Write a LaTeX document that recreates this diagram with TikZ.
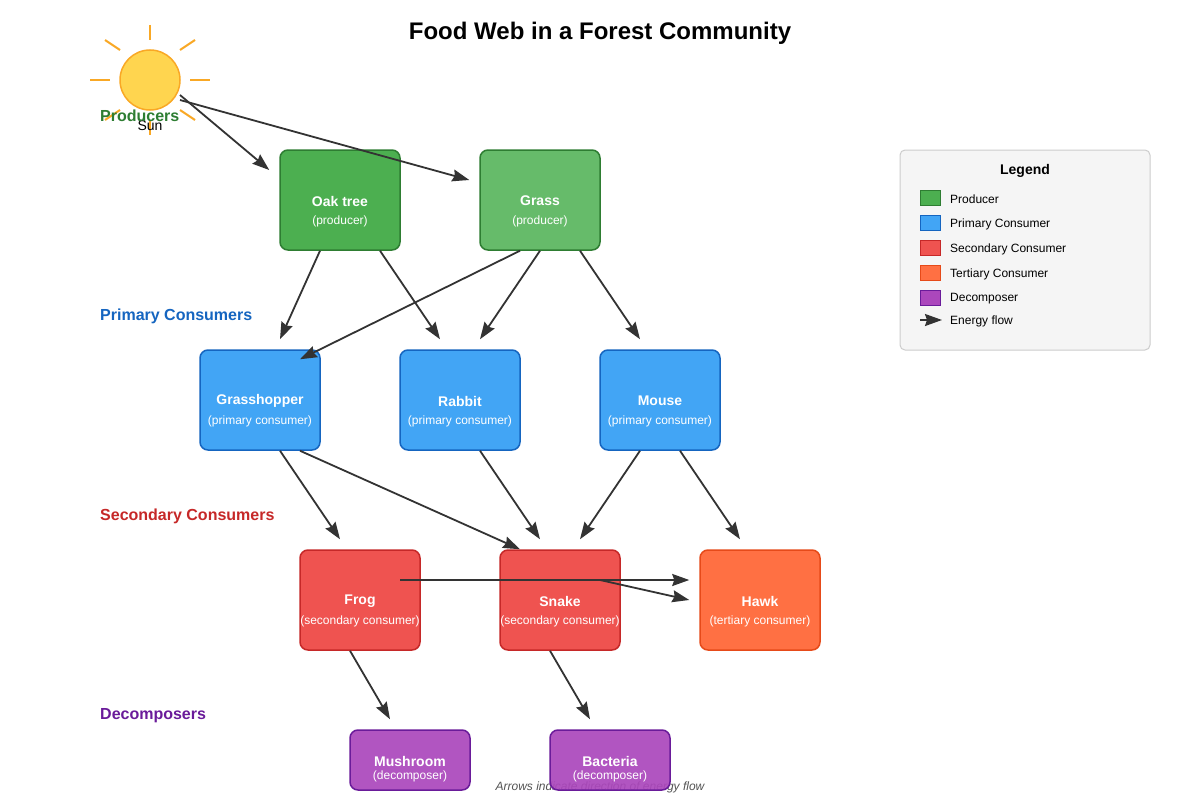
\documentclass[tikz,border=0pt]{standalone}
\usepackage{fontspec}
\setmainfont{Liberation Sans}
\usetikzlibrary{arrows.meta}
\definecolor{arr}{HTML}{333333}
\definecolor{prodA}{HTML}{4CAF50}
\definecolor{prodB}{HTML}{66BB6A}
\definecolor{prodE}{HTML}{2E7D32}
\definecolor{primF}{HTML}{42A5F5}
\definecolor{primE}{HTML}{1565C0}
\definecolor{secF}{HTML}{EF5350}
\definecolor{secE}{HTML}{C62828}
\definecolor{terF}{HTML}{FF7043}
\definecolor{terE}{HTML}{E64A19}
\definecolor{decF}{HTML}{AB47BC}
\definecolor{decE}{HTML}{6A1B9A}
\definecolor{sunF}{HTML}{FFD54F}
\definecolor{sunE}{HTML}{F9A825}
\definecolor{legF}{HTML}{F5F5F5}
\definecolor{legE}{HTML}{CCCCCC}
\tikzset{
  org/.style={draw, line width=1.5pt, rounded corners=8pt, minimum width=120pt, minimum height=100pt, inner sep=0pt},
  smallorg/.style={org, minimum height=60pt, fill opacity=0.92},
  flow/.style={draw=arr, line width=1.8pt, -{Stealth[length=17pt,width=12pt,inset=2pt]}},
  ray/.style={draw=sunE, line width=2pt},
  lvl/.style={anchor=west, font=\fontsize{16}{18}\selectfont\bfseries, inner sep=0pt},
  tname/.style={text=white, font=\fontsize{14}{16}\selectfont\bfseries, inner sep=0pt, text opacity=1},
  tsub/.style={text=white, font=\fontsize{12}{14}\selectfont, inner sep=0pt, text opacity=1},
  legtxt/.style={anchor=west, font=\fontsize{12}{14}\selectfont, inner sep=0pt},
  swatch/.style={draw, line width=1pt, minimum width=20pt, minimum height=15pt, inner sep=0pt, anchor=north west}
}
\begin{document}
\begin{tikzpicture}[x=1pt,y=-1pt]
\useasboundingbox (0,0) rectangle (1200,800);
\fill[white] (0,0) rectangle (1200,800);

% title
\node[font=\fontsize{24}{28}\selectfont\bfseries] (title) at (600,33) {Food Web in a Forest Community};

% caption (under boxes)
\node[text=black!67, font=\fontsize{12}{14}\selectfont\itshape] (cap) at (600,787) {Arrows indicate direction of energy flow};

% sun
\draw[ray] (150,25) -- (150,40);
\draw[ray] (150,120) -- (150,135);
\draw[ray] (90,80) -- (110,80);
\draw[ray] (190,80) -- (210,80);
\draw[ray] (180,50) -- (195,40);
\draw[ray] (120,50) -- (105,40);
\draw[ray] (180,110) -- (195,120);
\draw[ray] (120,110) -- (105,120);
\node[circle, draw=sunE, fill=sunF, line width=1.5pt, minimum size=60pt, inner sep=0pt] (sun) at (150,80) {};
\node[font=\fontsize{14}{16}\selectfont, inner sep=0pt] (sunlbl) at (150,126) {Sun};

% level labels
\node[lvl, text=prodE] (lp) at (100,116) {Producers};
\node[lvl, text=primE] (l1) at (100,316) {Primary Consumers};
\node[lvl, text=secE] (l2) at (100,516) {Secondary Consumers};
\node[lvl, text=decE] (l3) at (100,716) {Decomposers};

% organisms
\node[org, draw=prodE, fill=prodA] (oak) at (340,200) {};
\node[org, draw=prodE, fill=prodB] (grass) at (540,200) {};
\node[org, draw=primE, fill=primF] (gh) at (260,400) {};
\node[org, draw=primE, fill=primF] (rab) at (460,400) {};
\node[org, draw=primE, fill=primF] (mou) at (660,400) {};
\node[org, draw=secE, fill=secF] (frog) at (360,600) {};
\node[org, draw=secE, fill=secF] (snake) at (560,600) {};
\node[org, draw=terE, fill=terF] (hawk) at (760,600) {};
\node[smallorg, draw=decE, fill=decF] (mush) at (410,760) {};
\node[smallorg, draw=decE, fill=decF] (bact) at (610,760) {};

\node[tname] (oakT) at (340,201) {Oak tree};
\node[tsub] (oakS) at (340,221) {(producer)};
\node[tname] (grassT) at (540,201) {Grass};
\node[tsub] (grassS) at (540,221) {(producer)};
\node[tname] (ghT) at (260,401) {Grasshopper};
\node[tsub] (ghS) at (260,421) {(primary consumer)};
\node[tname] (rabT) at (460,401) {Rabbit};
\node[tsub] (rabS) at (460,421) {(primary consumer)};
\node[tname] (mouT) at (660,401) {Mouse};
\node[tsub] (mouS) at (660,421) {(primary consumer)};
\node[tname] (frogT) at (360,601) {Frog};
\node[tsub] (frogS) at (360,621) {(secondary consumer)};
\node[tname] (snakeT) at (560,601) {Snake};
\node[tsub] (snakeS) at (560,621) {(secondary consumer)};
\node[tname] (hawkT) at (760,601) {Hawk};
\node[tsub] (hawkS) at (760,621) {(tertiary consumer)};
\node[tname] (mushT) at (410,761) {Mushroom};
\node[tsub] (mushS) at (410,776) {(decomposer)};
\node[tname] (bactT) at (610,761) {Bacteria};
\node[tsub] (bactS) at (610,776) {(decomposer)};

% energy flows
\draw[flow] ([xshift=30pt,yshift=-15pt]sun.center) -- ([xshift=-10pt,yshift=30pt]oak.west);
\draw[flow] ([xshift=30pt,yshift=-20pt]sun.center) -- ([xshift=-10pt,yshift=20pt]grass.west);
\draw[flow] ([xshift=-20pt]oak.south) -- ([xshift=20pt,yshift=10pt]gh.north);
\draw[flow] ([xshift=40pt]oak.south) -- ([xshift=-20pt,yshift=10pt]rab.north);
\draw[flow] ([xshift=-20pt]grass.south) -- ([xshift=40pt,yshift=-10pt]gh.north);
\draw[flow] (grass.south) -- ([xshift=20pt,yshift=10pt]rab.north);
\draw[flow] ([xshift=40pt]grass.south) -- ([xshift=-20pt,yshift=10pt]mou.north);
\draw[flow] ([xshift=20pt]gh.south) -- ([xshift=-20pt,yshift=10pt]frog.north);
\draw[flow] ([xshift=40pt]gh.south) -- ([xshift=-40pt]snake.north);
\draw[flow] ([xshift=20pt]rab.south) -- ([xshift=-20pt,yshift=10pt]snake.north);
\draw[flow] ([xshift=-20pt]mou.south) -- ([xshift=20pt,yshift=10pt]snake.north);
\draw[flow] ([xshift=20pt]mou.south) -- ([xshift=-20pt,yshift=10pt]hawk.north);
\draw[flow] ([xshift=40pt,yshift=20pt]frog.center) -- ([xshift=-10pt,yshift=20pt]hawk.west);
\draw[flow] ([xshift=40pt,yshift=20pt]snake.center) -- ([xshift=-10pt]hawk.west);
\draw[flow] ([xshift=-10pt]frog.south) -- ([xshift=-20pt,yshift=10pt]mush.north);
\draw[flow] ([xshift=-10pt]snake.south) -- ([xshift=-20pt,yshift=10pt]bact.north);

% legend
\node[draw=legE, fill=legF, line width=1pt, rounded corners=5pt, minimum width=250pt, minimum height=200pt, inner sep=0pt] (leg) at (1025,250) {};
\node[font=\fontsize{14}{16}\selectfont\bfseries, inner sep=0pt] (legT) at (1025,171) {Legend};
\node[swatch, draw=prodE, fill=prodA] (sw1) at (920,190) {};
\node[swatch, draw=primE, fill=primF] (sw2) at (920,215) {};
\node[swatch, draw=secE, fill=secF] (sw3) at (920,240) {};
\node[swatch, draw=terE, fill=terF] (sw4) at (920,265) {};
\node[swatch, draw=decE, fill=decF] (sw5) at (920,290) {};
\coordinate (ef0) at (920,320);
\coordinate (ef1) at (942,320);
\draw[draw=arr, line width=1.8pt, -{Stealth[length=17pt,width=12pt,inset=2pt]}] (ef0) -- (ef1);
\node[legtxt] (lt1) at (950,199) {Producer};
\node[legtxt] (lt2) at (950,224) {Primary Consumer};
\node[legtxt] (lt3) at (950,249) {Secondary Consumer};
\node[legtxt] (lt4) at (950,274) {Tertiary Consumer};
\node[legtxt] (lt5) at (950,299) {Decomposer};
\node[legtxt] (lt6) at (950,321) {Energy flow};
\end{tikzpicture}
\end{document}
